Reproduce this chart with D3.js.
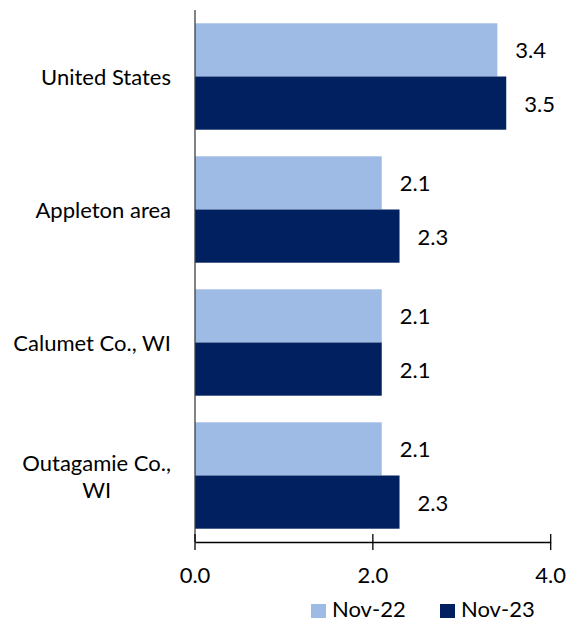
<!DOCTYPE html>
<html><head><meta charset="utf-8">
<script src="https://cdn.jsdelivr.net/npm/d3@7"></script>
<style>body{margin:0;background:#fff;} text{font-family:"Lato","Open Sans",sans-serif;fill:#000;}</style>
</head><body>
<svg id="c" width="567" height="622"></svg>
<script>
const categories = ["United States","Appleton area","Calumet Co., WI","Outagamie Co., WI"];
const labelLines = [["United States"],["Appleton area"],["Calumet Co., WI"],["Outagamie Co.,","WI"]];
const seriesNames = ["Nov-22","Nov-23"];
const nov22 = [3.4, 2.1, 2.1, 2.1];
const nov23 = [3.5, 2.3, 2.1, 2.3];
const xTicks = [0, 2, 4];
const colors = ["#9dbbe4", "#002060"];

(function(){
const svg = d3.select("#c");
const fs = 22;
const mLeft = 195, mRight = 550.7, mTop = 10, mBottom = 542;
const x = d3.scaleLinear().domain([0,4]).range([mLeft,mRight]);
const y = d3.scaleBand().domain(categories).range([mTop,mBottom]).paddingInner(0.2).paddingOuter(0.1);
const sub = d3.scaleBand().domain(seriesNames).range([0,y.bandwidth()]);
const series = [nov22, nov23];

categories.forEach((c,i)=>{
  series.forEach((s,j)=>{
    svg.append("rect").attr("x",x(0)).attr("y",y(c)+sub(seriesNames[j]))
      .attr("width",x(s[i])-x(0)).attr("height",sub.bandwidth()).attr("fill",colors[j]);
    svg.append("text").attr("x",x(s[i])+18).attr("y",y(c)+sub(seriesNames[j])+sub.bandwidth()/2)
      .attr("dominant-baseline","central").attr("font-size",fs).text(s[i].toFixed(1));
  });
  const lines = labelLines[i];
  const cy = y(c)+y.bandwidth()/2;
  const g = svg.append("g");
  lines.forEach((l,k)=>{
    g.append("text").attr("x",0).attr("y",cy+(k-(lines.length-1)/2)*27)
      .attr("text-anchor","middle").attr("dominant-baseline","central").attr("font-size",fs).text(l);
  });
  const bb = g.node().getBBox();
  g.attr("transform",`translate(${171 - (bb.x + bb.width)},0)`);
});

svg.append("line").attr("x1",mLeft).attr("x2",mLeft).attr("y1",mTop).attr("y2",mBottom).attr("stroke","#404040").attr("stroke-width",1.3);
const xa = svg.append("g").attr("transform",`translate(0,${mBottom})`)
  .call(d3.axisBottom(x).tickValues(xTicks).tickFormat(d3.format(".1f")).tickSize(0).tickPadding(0));
xa.select(".domain").attr("stroke","#000").attr("stroke-width",1.3);
xa.selectAll(".tick text").remove();
xTicks.forEach(t=>{
  svg.append("line").attr("x1",x(t)).attr("x2",x(t)).attr("y1",mBottom-8).attr("y2",mBottom+8).attr("stroke","#000").attr("stroke-width",1.3);
  svg.append("text").attr("x",x(t)).attr("y",574).attr("text-anchor","middle").attr("dominant-baseline","central").attr("font-size",fs).text(d3.format(".1f")(t));
});

const legX = [311, 440];
seriesNames.forEach((n,j)=>{
  svg.append("rect").attr("x",legX[j]).attr("y",604).attr("width",15).attr("height",14).attr("fill",colors[j]);
  svg.append("text").attr("x",legX[j]+21).attr("y",617).attr("font-size",22).text(n);
});
})();
</script>
</body></html>
